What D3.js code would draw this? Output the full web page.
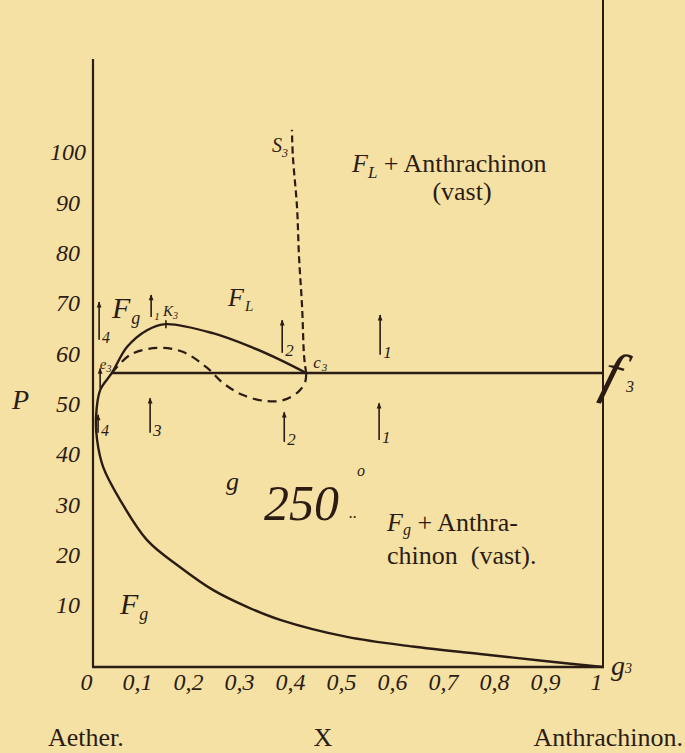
<!DOCTYPE html>
<html>
<head>
<meta charset="utf-8">
<script src="https://cdn.jsdelivr.net/npm/d3@7"></script>
<style>
  html, body { margin: 0; padding: 0; background: #f6e1a4; }
  svg { display: block; }
  .hand { font-family: "Liberation Serif", "DejaVu Serif", serif; font-style: italic; fill: #2a1c14; }
  .print { font-family: "Liberation Serif", "DejaVu Serif", serif; fill: #2a1c14; }
</style>
</head>
<body>
<svg id="chart" width="685" height="753"></svg>
<script>
// ---- data (X = mole fraction Anthrachinon, P = pressure) ----
const xTicks = [0, 0.1, 0.2, 0.3, 0.4, 0.5, 0.6, 0.7, 0.8, 0.9, 1];
const xTickLabels = ["0", "0,1", "0,2", "0,3", "0,4", "0,5", "0,6", "0,7", "0,8", "0,9", "1"];
const pTicks = [10, 20, 30, 40, 50, 60, 70, 80, 90, 100];
const pTickLabels = ["10", "20", "30", "40", "50", "60", "70", "80", "90", "100"];

// solid boundary: g3 -> e3 -> K3 -> c3
const outerCurveX = [1.000, 0.876, 0.759, 0.627, 0.498, 0.367, 0.302, 0.235, 0.171, 0.106, 0.053, 0.020, 0.008, 0.006, 0.014, 0.037, 0.067, 0.106, 0.143, 0.235, 0.314, 0.367, 0.418];
const outerCurveP = [0.0, 1.05, 2.1, 3.3, 4.85, 7.6, 9.7, 13.0, 17.5, 22.9, 30.9, 37.4, 42.8, 47.4, 52.7, 56.1, 61.3, 64.6, 65.8, 64.0, 61.1, 58.7, 56.1];

// dashed curve: e3 -> c3
const dashedCurveX = [0.037, 0.073, 0.127, 0.176, 0.224, 0.255, 0.294, 0.341, 0.373, 0.402, 0.416, 0.418];
const dashedCurveP = [56.1, 59.7, 61.1, 60.3, 57.1, 54.1, 51.7, 50.5, 50.7, 52.3, 54.3, 56.1];

// dashed line: c3 -> S3
const s3LineX = [0.418, 0.414, 0.410, 0.404, 0.400, 0.392, 0.390];
const s3LineP = [56.1, 59.3, 69.2, 79.1, 89.1, 99.0, 104.4];

// three-phase line e3 -> f3
const threePhaseP = 56.1;
const threePhaseX = [0.037, 1];

// special points
const pointK3 = [0.143, 65.8];

// arrows: position, start and end pressure, label
const arrowX    = [0.012, 0.014, 0.010, 0.114, 0.112, 0.371, 0.375, 0.563, 0.561];
const arrowFrom = [62.7, 53.0, 44.2, 67.2, 44.2, 60.1, 42.4, 59.7, 42.8];
const arrowTo   = [70.2, 57.0, 47.8, 71.6, 51.1, 66.6, 48.3, 67.6, 50.1];
const arrowText = ["4", "", "4", "1", "3", "2", "2", "1", "1"];
const arrowTextSize = [16, 0, 16, 11, 17, 17, 17, 17, 17];

// ---- scales ----
const ink = "#2a1c14";
const x = d3.scaleLinear().domain([0, 1]).range([93, 603]);
const y = d3.scaleLinear().domain([0, 10, 100]).range([667, 605, 152]);

const svg = d3.select("#chart");
svg.append("rect").attr("width", 685).attr("height", 753).attr("fill", "#f6e1a4");

const defs = svg.append("defs");
defs.append("marker")
  .attr("id", "head")
  .attr("viewBox", "0 0 10 10")
  .attr("refX", 9).attr("refY", 5)
  .attr("markerWidth", 11).attr("markerHeight", 6)
  .attr("markerUnits", "userSpaceOnUse")
  .attr("orient", "auto")
  .append("path").attr("d", "M0,1 L10,5 L0,9 Z").attr("fill", ink);

// ---- frame ----
svg.append("line").attr("x1", x(0)).attr("x2", x(0)).attr("y1", y(0)).attr("y2", y(118.5))
  .attr("stroke", ink).attr("stroke-width", 2.2);
svg.append("line").attr("x1", x(1)).attr("x2", x(1)).attr("y1", y(0)).attr("y2", y(131))
  .attr("stroke", ink).attr("stroke-width", 2);
svg.append("line").attr("x1", x(0) - 1).attr("x2", x(1) + 1).attr("y1", y(0)).attr("y2", y(0))
  .attr("stroke", ink).attr("stroke-width", 2.6);

// ---- axes labels (no tick marks) ----
const yAxis = svg.append("g").attr("transform", `translate(${x(0)},0)`)
  .call(d3.axisLeft(y).tickValues(pTicks).tickSize(0).tickFormat((d, i) => pTickLabels[i]));
yAxis.select(".domain").remove();
yAxis.selectAll("text")
  .attr("class", "hand").attr("font-size", 24).attr("text-anchor", "middle")
  .attr("x", -25).attr("dy", "0.33em").attr("fill", ink)
  .attr("font-family", "Liberation Serif").attr("font-style", "italic");

const xAxis = svg.append("g").attr("transform", `translate(0,${y(0)})`)
  .call(d3.axisBottom(x).tickValues(xTicks).tickSize(0).tickFormat((d, i) => xTickLabels[i]));
xAxis.select(".domain").remove();
xAxis.selectAll("text")
  .attr("class", "hand").attr("font-size", 24).attr("text-anchor", "middle")
  .attr("x", -7).attr("y", 6).attr("dy", "0.71em").attr("fill", ink)
  .attr("font-family", "Liberation Serif").attr("font-style", "italic");

// ---- curves ----
const line = d3.line().x(d => x(d[0])).y(d => y(d[1])).curve(d3.curveCatmullRom.alpha(0.5));
const zip = (a, b) => a.map((v, i) => [v, b[i]]);

svg.append("path").attr("d", line(zip(outerCurveX, outerCurveP)))
  .attr("fill", "none").attr("stroke", ink).attr("stroke-width", 2.4);

svg.append("path").attr("d", line(zip(dashedCurveX, dashedCurveP)))
  .attr("fill", "none").attr("stroke", ink).attr("stroke-width", 2.2)
  .attr("stroke-dasharray", "9 6");

svg.append("path").attr("d", line(zip(s3LineX, s3LineP)))
  .attr("fill", "none").attr("stroke", ink).attr("stroke-width", 2.2)
  .attr("stroke-dasharray", "7 4");

svg.append("line")
  .attr("x1", x(threePhaseX[0])).attr("x2", x(threePhaseX[1]))
  .attr("y1", y(threePhaseP)).attr("y2", y(threePhaseP))
  .attr("stroke", ink).attr("stroke-width", 2.4);

// small mark on the curve at K3
svg.append("line")
  .attr("x1", x(pointK3[0])).attr("x2", x(pointK3[0]))
  .attr("y1", y(pointK3[1]) - 4).attr("y2", y(pointK3[1]) + 4)
  .attr("stroke", ink).attr("stroke-width", 1.6);

// ---- arrows ----
arrowX.forEach((ax, i) => {
  svg.append("line")
    .attr("x1", x(ax)).attr("x2", x(ax))
    .attr("y1", y(arrowFrom[i])).attr("y2", y(arrowTo[i]))
    .attr("stroke", ink).attr("stroke-width", 1.6)
    .attr("marker-end", "url(#head)");
  if (arrowText[i]) {
    svg.append("text").attr("class", "hand")
      .attr("x", x(ax) + 3).attr("y", y(arrowFrom[i]) + 3)
      .attr("font-size", arrowTextSize[i]).text(arrowText[i]);
  }
});

// ---- point labels ----
function sub(px, py, size, main, subText, subSize, subDx, subDy) {
  const tx = svg.append("text").attr("class", "hand").attr("x", px).attr("y", py).attr("font-size", size);
  tx.append("tspan").text(main);
  tx.append("tspan").attr("font-size", subSize).attr("dx", subDx).attr("dy", subDy).text(subText);
  return tx;
}
sub(x(0.037) - 12, y(threePhaseP) - 4, 15, "e", "3", 10, 0, 3);
sub(x(pointK3[0]) - 3, y(pointK3[1]) - 8, 15, "K", "3", 10, 0, 3);
sub(x(0.418) + 7, y(threePhaseP) - 5, 17, "c", "3", 11, 1, 3);
sub(x(0.390) - 20, y(104.4) + 22, 20, "S", "3", 12, 0, 5);
sub(x(1) + 8, y(0) + 8, 28, "g", "3", 14, 0, -2);

// f3 on the right axis
svg.append("text").attr("class", "hand").attr("font-size", 60)
  .attr("x", 603).attr("y", 394)
  .attr("transform", "rotate(16 615 378)").text("f");
svg.append("text").attr("class", "hand").attr("font-size", 16)
  .attr("x", 626).attr("y", 392).text("3");

// region labels
sub(112, 318, 30, "F", "g", 18, 1, 6);
sub(228, 306, 26, "F", "L", 15, 1, 5);
sub(120, 614, 30, "F", "g", 18, 1, 6);
svg.append("text").attr("class", "hand").attr("x", 226).attr("y", 490).attr("font-size", 26).text("g");

// temperature
svg.append("text").attr("class", "hand").attr("x", 264).attr("y", 520).attr("font-size", 50).text("250");
svg.append("text").attr("class", "hand").attr("x", 357).attr("y", 476).attr("font-size", 16).text("o");
svg.append("text").attr("class", "hand").attr("x", 349).attr("y", 518).attr("font-size", 16).text("..");

// printed phase-field labels
const fl = svg.append("text").attr("class", "print").attr("x", 352).attr("y", 172).attr("font-size", 26);
fl.append("tspan").attr("font-style", "italic").text("F");
fl.append("tspan").attr("font-style", "italic").attr("font-size", 17).attr("dy", 6).text("L");
fl.append("tspan").attr("dy", -6).text(" + Anthrachinon");
svg.append("text").attr("class", "print").attr("x", 462).attr("y", 200).attr("font-size", 26)
  .attr("text-anchor", "middle").text("(vast)");

const fg = svg.append("text").attr("class", "print").attr("x", 387).attr("y", 531).attr("font-size", 26);
fg.append("tspan").attr("font-style", "italic").text("F");
fg.append("tspan").attr("font-style", "italic").attr("font-size", 16).attr("dy", 4).text("g");
fg.append("tspan").attr("dy", -4).text(" + Anthra-");
svg.append("text").attr("class", "print").attr("x", 387).attr("y", 564).attr("font-size", 26)
  .attr("xml:space", "preserve").text("chinon  (vast).");

// axis titles
svg.append("text").attr("class", "print").attr("font-style", "italic").attr("x", 12).attr("y", 409).attr("font-size", 28).text("P");
svg.append("text").attr("class", "print").attr("x", 48).attr("y", 746).attr("font-size", 26).text("Aether.");
svg.append("text").attr("class", "print").attr("x", 323).attr("y", 746).attr("font-size", 26).attr("text-anchor", "middle").text("X");
svg.append("text").attr("class", "print").attr("x", 683).attr("y", 746).attr("font-size", 26).attr("text-anchor", "end").text("Anthrachinon.");
</script>
</body>
</html>
